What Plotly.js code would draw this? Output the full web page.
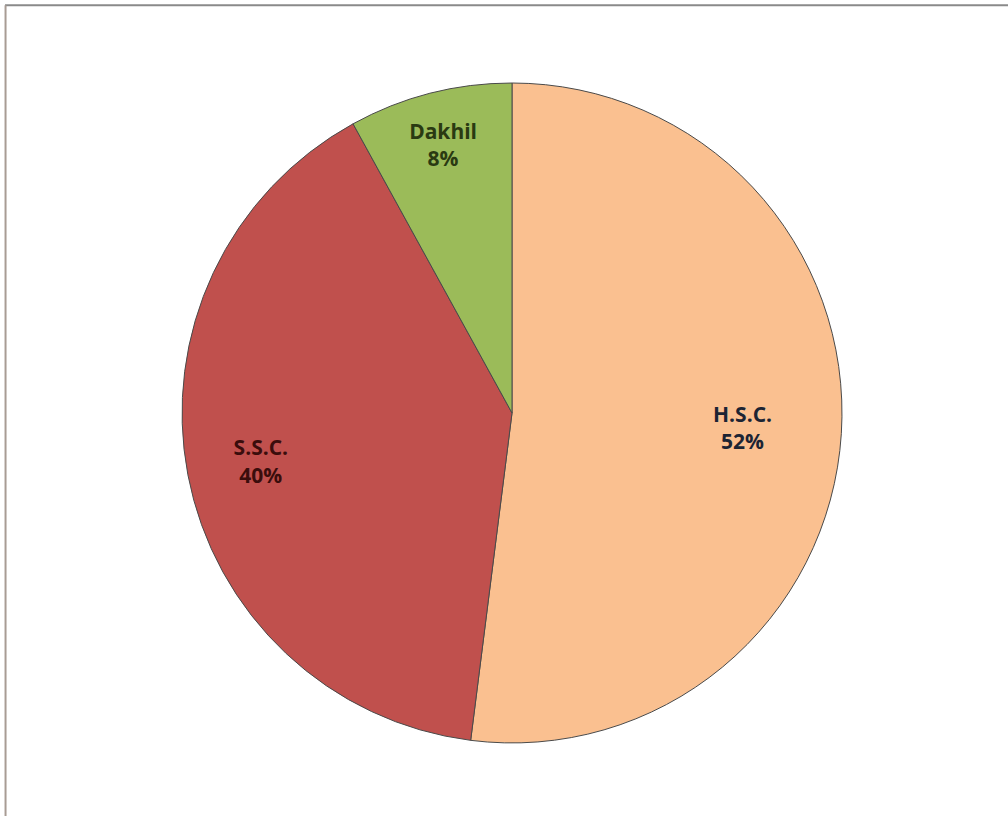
<!DOCTYPE html>
<html>
<head>
<meta charset="utf-8">
<script src="https://cdn.plot.ly/plotly-3.0.1.min.js"></script>
<style>html,body{margin:0;padding:0;background:#fff;}#chart{width:1008px;height:816px;}</style>
</head>
<body>
<div id="chart"></div>
<script>
const labels = ["H.S.C.", "S.S.C.", "Dakhil"];
const values = [52, 40, 8];
const sliceColors = ["#FAC090", "#C0504D", "#9BBB59"];
const textColors = ["#1c2433", "#3a0d0c", "#2a3a12"];
// hole used by each label-only overlay so the label sits at the same radius as in the reference
const labelHoles = [0.40, 0.55, 0.68];

const domain = {x: [0.1806, 0.8353], y: [0.0895, 0.8983]};
const font = {family: "Open Sans, Liberation Sans, sans-serif", size: 21, weight: "bold"};

const base = {
  type: "pie",
  labels: labels,
  values: values,
  sort: false,
  direction: "clockwise",
  rotation: 0,
  marker: {colors: sliceColors, line: {color: "#4a4a4a", width: 1}},
  textposition: "none",
  hoverinfo: "label+percent",
  showlegend: false,
  domain: domain
};

const overlays = labels.map((lab, i) => ({
  type: "pie",
  labels: labels,
  values: values,
  sort: false,
  direction: "clockwise",
  rotation: 0,
  hole: labelHoles[i],
  marker: {colors: labels.map(() => "rgba(0,0,0,0)"), line: {width: 0}},
  textinfo: "label+percent",
  textposition: labels.map((_, j) => j === i ? "inside" : "none"),
  insidetextorientation: "horizontal",
  textfont: Object.assign({color: textColors}, font),
  hoverinfo: "skip",
  showlegend: false,
  domain: domain
}));

const layout = {
  width: 1008, height: 816,
  margin: {l: 0, r: 0, t: 0, b: 0},
  paper_bgcolor: "#ffffff",
  showlegend: false,
  shapes: [
    {type: "line", xref: "paper", yref: "paper", x0: 0.005, x1: 1, y0: 0.9935, y1: 0.9935, line: {color: "#8a8a8a", width: 2}},
    {type: "line", xref: "paper", yref: "paper", x0: 0.0055, x1: 0.0055, y0: 0, y1: 0.9935, line: {color: "#a89c94", width: 2}}
  ]
};

Plotly.newPlot("chart", [base].concat(overlays), layout, {displayModeBar: false, staticPlot: true});
</script>
</body>
</html>
